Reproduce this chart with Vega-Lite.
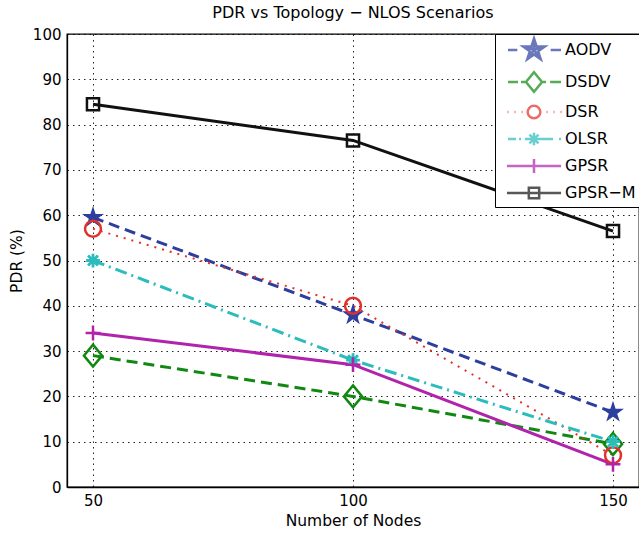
{
  "$schema": "https://vega.github.io/schema/vega-lite/v6.json",
  "width": 572,
  "height": 453,
  "autosize": {"type": "none"},
  "padding": {"left": 67, "top": 34, "right": 0, "bottom": 48},
  "background": "white",
  "title": {"text": "PDR vs Topology − NLOS Scenarios", "font": "DejaVu Sans", "fontSize": 16, "fontWeight": "normal", "color": "black", "offset": 6, "anchor": "middle"},
  "config": {
    "view": {"stroke": "black", "strokeWidth": 1.3},
    "axis": {
      "domainColor": "black", "domainWidth": 1.3,
      "grid": true, "gridColor": "black", "gridDash": [1.5, 4], "gridOpacity": 0.85,
      "ticks": false,
      "labelFont": "DejaVu Sans", "labelFontSize": 15, "labelColor": "black", "labelPadding": 6,
      "titleFont": "DejaVu Sans", "titleFontSize": 15.5, "titleFontWeight": "normal", "titleColor": "black"
    }
  },
  "data": {"values": [
    {"series": "AODV", "nodes": 50, "pdr": 59.5},
    {"series": "AODV", "nodes": 100, "pdr": 38},
    {"series": "AODV", "nodes": 150, "pdr": 16.5},
    {"series": "DSDV", "nodes": 50, "pdr": 29},
    {"series": "DSDV", "nodes": 100, "pdr": 20},
    {"series": "DSDV", "nodes": 150, "pdr": 9.5},
    {"series": "DSR", "nodes": 50, "pdr": 57},
    {"series": "DSR", "nodes": 100, "pdr": 40},
    {"series": "DSR", "nodes": 150, "pdr": 7},
    {"series": "OLSR", "nodes": 50, "pdr": 50},
    {"series": "OLSR", "nodes": 100, "pdr": 28},
    {"series": "OLSR", "nodes": 150, "pdr": 10},
    {"series": "GPSR", "nodes": 50, "pdr": 34},
    {"series": "GPSR", "nodes": 100, "pdr": 27},
    {"series": "GPSR", "nodes": 150, "pdr": 5},
    {"series": "GPSR−M", "nodes": 50, "pdr": 84.5},
    {"series": "GPSR−M", "nodes": 100, "pdr": 76.5},
    {"series": "GPSR−M", "nodes": 150, "pdr": 56.5}
  ]},
  "layer": [
    {
      "mark": {"type": "line", "opacity": 0, "strokeWidth": 2.5},
      "encoding": {
        "x": {"field": "nodes", "type": "quantitative", "scale": {"domain": [45, 155], "nice": false, "zero": false}, "axis": {"values": [50, 100, 150], "title": "Number of Nodes", "titlePadding": 5}},
        "y": {"field": "pdr", "type": "quantitative", "scale": {"domain": [0, 100], "nice": false}, "axis": {"values": [0, 10, 20, 30, 40, 50, 60, 70, 80, 90, 100], "title": "PDR (%)", "titlePadding": 8}},
        "color": {
          "field": "series", "type": "nominal",
          "scale": {"domain": ["AODV", "DSDV", "DSR", "OLSR", "GPSR", "GPSR−M"], "range": ["#2c3e9e", "#118811", "#e2302a", "#2bbcbc", "#b023aa", "#111111"]},
          "legend": {
            "orient": "none", "legendX": 428, "legendY": 0,
            "title": null,
            "symbolSize": 529, "padding": 3,
            "symbolOffset": 23, "labelOffset": 18,
            "labelFont": "DejaVu Sans", "labelFontSize": 16, "labelColor": "black",
            "strokeColor": "black", "fillColor": "white",
            "symbolStrokeWidth": 2.5, "symbolOpacity": 1, "rowPadding": 2
          }
        }
      }
    },
    {
      "mark": {"type": "point", "filled": false, "size": 0, "strokeWidth": 2.5},
      "encoding": {
        "x": {"field": "nodes", "type": "quantitative"},
        "y": {"field": "pdr", "type": "quantitative"},
        "color": {"field": "series", "type": "nominal"},
        "shape": {"field": "series", "type": "nominal", "legend": null, "scale": {"domain": ["AODV", "DSDV", "DSR", "OLSR", "GPSR", "GPSR−M"], "range": [
          "M-2.26,0H-1.45M1.45,0H2.35M0,-1L0.224,-0.309L0.951,-0.309L0.363,0.118L0.588,0.809L0,0.382L-0.588,0.809L-0.363,0.118L-0.951,-0.309L-0.224,-0.309ZM0,0L0,-0.75M0,0L0.7,-0.25M0,0L0.45,0.6M0,0L-0.45,0.6M0,0L-0.7,-0.25M-0.3,-0.1H0.3",
          "M-2.26,0H-1.39M-1.13,0H-0.78M0.78,0H1.05M1.4,0H2.35M0,-0.85L0.7,0L0,0.85L-0.7,0Z",
          "M-2.3,0H-2.22M-1.69,0H-1.61M-1.08,0H-1M1.09,0H1.17M1.7,0H1.78M2.31,0H2.39M0.55,0A0.55,0.55,0,1,1,-0.55,0A0.55,0.55,0,1,1,0.55,0Z",
          "M-2.26,0H-1.57M-1.3,0H-1.13M-0.78,0H1.65M2.17,0H2.35M0,-0.55V0.55M-0.39,-0.39L0.39,0.39M-0.39,0.39L0.39,-0.39",
          "M-2.35,0H2.35M0,-0.6V0.6",
          "M-2.35,0H2.35M-0.45,-0.45H0.45V0.45H-0.45Z"
        ]}}
      }
    },
    {
      "transform": [{"filter": "datum.series === 'AODV'"}],
      "mark": {"type": "line", "color": "#2c3e9e", "strokeWidth": 3, "strokeDash": [11, 6]},
      "encoding": {"x": {"field": "nodes", "type": "quantitative"}, "y": {"field": "pdr", "type": "quantitative"}}
    },
    {
      "transform": [{"filter": "datum.series === 'DSDV'"}],
      "mark": {"type": "line", "color": "#118811", "strokeWidth": 3, "strokeDash": [11, 6]},
      "encoding": {"x": {"field": "nodes", "type": "quantitative"}, "y": {"field": "pdr", "type": "quantitative"}}
    },
    {
      "transform": [{"filter": "datum.series === 'DSR'"}],
      "mark": {"type": "line", "color": "#e2302a", "strokeWidth": 2, "strokeDash": [2, 6]},
      "encoding": {"x": {"field": "nodes", "type": "quantitative"}, "y": {"field": "pdr", "type": "quantitative"}}
    },
    {
      "transform": [{"filter": "datum.series === 'OLSR'"}],
      "mark": {"type": "line", "color": "#2bbcbc", "strokeWidth": 3, "strokeDash": [12, 5, 2, 5]},
      "encoding": {"x": {"field": "nodes", "type": "quantitative"}, "y": {"field": "pdr", "type": "quantitative"}}
    },
    {
      "transform": [{"filter": "datum.series === 'GPSR'"}],
      "mark": {"type": "line", "color": "#b023aa", "strokeWidth": 3},
      "encoding": {"x": {"field": "nodes", "type": "quantitative"}, "y": {"field": "pdr", "type": "quantitative"}}
    },
    {
      "transform": [{"filter": "datum.series === 'GPSR−M'"}],
      "mark": {"type": "line", "color": "#111111", "strokeWidth": 3},
      "encoding": {"x": {"field": "nodes", "type": "quantitative"}, "y": {"field": "pdr", "type": "quantitative"}}
    },
    {
      "transform": [{"filter": "datum.series === 'AODV'"}],
      "mark": {"type": "point", "filled": true, "size": 3025, "color": "#2c3e9e", "shape": "M0,-0.42L0.094,-0.13L0.399,-0.13L0.152,0.05L0.247,0.34L0,0.16L-0.247,0.34L-0.152,0.05L-0.399,-0.13L-0.094,-0.13Z", "opacity": 1},
      "encoding": {"x": {"field": "nodes", "type": "quantitative"}, "y": {"field": "pdr", "type": "quantitative"}}
    },
    {
      "transform": [{"filter": "datum.series === 'DSDV'"}],
      "mark": {"type": "point", "filled": false, "size": 3025, "strokeWidth": 2.5, "color": "#118811", "shape": "M0,-0.4L0.33,0L0,0.4L-0.33,0Z", "opacity": 1},
      "encoding": {"x": {"field": "nodes", "type": "quantitative"}, "y": {"field": "pdr", "type": "quantitative"}}
    },
    {
      "transform": [{"filter": "datum.series === 'DSR'"}],
      "mark": {"type": "point", "filled": false, "size": 3025, "strokeWidth": 2.5, "color": "#e2302a", "shape": "M0.29,0A0.29,0.29,0,1,1,-0.29,0A0.29,0.29,0,1,1,0.29,0Z", "opacity": 1},
      "encoding": {"x": {"field": "nodes", "type": "quantitative"}, "y": {"field": "pdr", "type": "quantitative"}}
    },
    {
      "transform": [{"filter": "datum.series === 'OLSR'"}],
      "mark": {"type": "point", "filled": false, "size": 3025, "strokeWidth": 2.8, "color": "#2bbcbc", "shape": "M-0.25,0H0.25M0,-0.25V0.25M-0.18,-0.18L0.18,0.18M-0.18,0.18L0.18,-0.18", "opacity": 1},
      "encoding": {"x": {"field": "nodes", "type": "quantitative"}, "y": {"field": "pdr", "type": "quantitative"}}
    },
    {
      "transform": [{"filter": "datum.series === 'GPSR'"}],
      "mark": {"type": "point", "filled": false, "size": 3025, "strokeWidth": 2.5, "color": "#b023aa", "shape": "M-0.27,0H0.27M0,-0.27V0.27", "opacity": 1},
      "encoding": {"x": {"field": "nodes", "type": "quantitative"}, "y": {"field": "pdr", "type": "quantitative"}}
    },
    {
      "transform": [{"filter": "datum.series === 'GPSR−M'"}],
      "mark": {"type": "point", "filled": false, "size": 3025, "strokeWidth": 2.5, "color": "#111111", "shape": "M-0.22,-0.22H0.22V0.22H-0.22Z", "opacity": 1},
      "encoding": {"x": {"field": "nodes", "type": "quantitative"}, "y": {"field": "pdr", "type": "quantitative"}}
    }
  ]
}
